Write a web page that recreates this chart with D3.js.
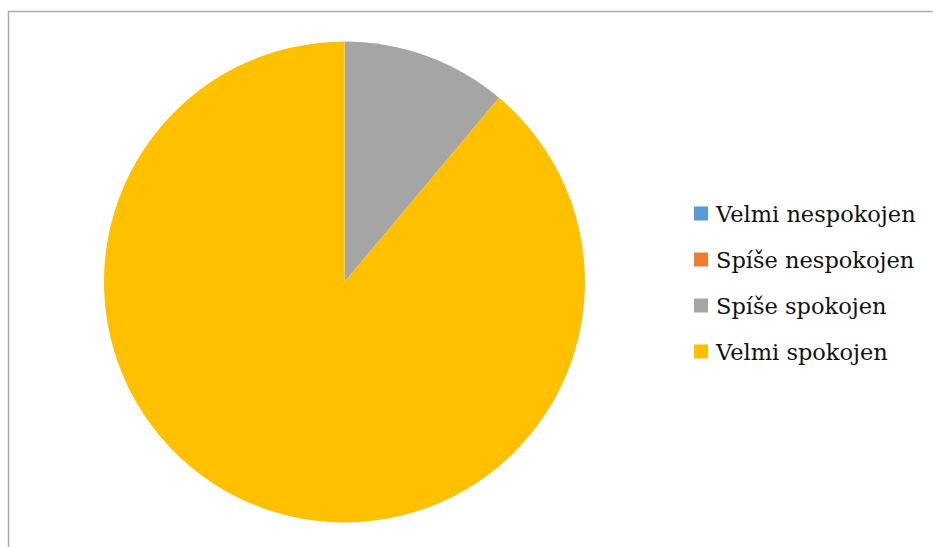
<!DOCTYPE html>
<html>
<head>
<meta charset="utf-8">
<script src="https://cdn.jsdelivr.net/npm/d3@7"></script>
<style>
  html, body { margin: 0; padding: 0; background: #fff; }
  svg { display: block; }
</style>
</head>
<body>
<svg id="chart" width="933" height="547"></svg>
<script>
// Satisfaction responses
const categories = ["Velmi nespokojen", "Spíše nespokojen", "Spíše spokojen", "Velmi spokojen"];
const counts = [0, 0, 1, 8];
const colors = ["#5B9BD5", "#ED7D31", "#A5A5A5", "#FFC000"];

const svg = d3.select("#chart");

// chart frame
svg.append("path")
  .attr("d", "M8.5,560 V11.5 H932.5")
  .attr("fill", "none")
  .attr("stroke", "#ababab")
  .attr("stroke-width", 1.5);

const data = categories.map((c, i) => ({ name: c, value: counts[i], color: colors[i] }));

const pie = d3.pie().value(d => d.value).sort(null);
const arc = d3.arc().innerRadius(0).outerRadius(240.5);

const g = svg.append("g").attr("transform", "translate(344.5,282)");
g.selectAll("path.slice")
  .data(pie(data).filter(d => d.data.value > 0))
  .join("path")
  .attr("class", "slice")
  .attr("d", arc)
  .attr("fill", d => d.data.color);

// legend
const color = d3.scaleOrdinal().domain(categories).range(colors);
const row = d3.scalePoint().domain(categories).range([213.5, 351.5]);

const legend = svg.append("g");
const item = legend.selectAll("g.item")
  .data(categories)
  .join("g")
  .attr("class", "item")
  .attr("transform", d => `translate(694,${row(d)})`);

item.append("rect")
  .attr("x", 0).attr("y", -7)
  .attr("width", 14).attr("height", 14)
  .attr("fill", d => color(d));

item.append("text")
  .attr("x", 22).attr("y", 8)
  .attr("font-family", "'DejaVu Serif', serif")
  .attr("font-size", 22.5)
  .attr("fill", "#111")
  .text(d => d);
</script>
</body>
</html>
